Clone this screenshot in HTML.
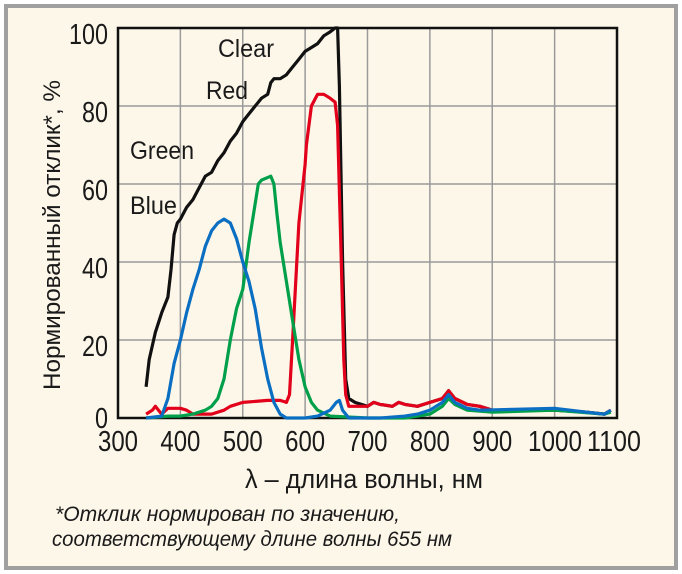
<!DOCTYPE html><html><head><meta charset="utf-8"><style>
body{margin:0;background:#fff}
svg{display:block}
text{font-family:"Liberation Sans",sans-serif;fill:#1a1a1a}
</style></head><body>
<svg id="s" width="682" height="574" xmlns="http://www.w3.org/2000/svg">
<rect x="6" y="6" width="670" height="562" fill="#fdf7e9" stroke="#a0a0a0" stroke-width="4"/>
<g id="grid" stroke="#9a9a9a" stroke-width="1.5"></g>
<rect x="118" y="28" width="499" height="390" fill="none" stroke="#111" stroke-width="2.5"/>
<g id="curves" fill="none" stroke-width="3.2" stroke-linejoin="round"></g>
<g font-size="29" text-anchor="end">
<text x="108" y="44" textLength="39" lengthAdjust="spacingAndGlyphs">100</text>
<text x="108" y="122" textLength="26" lengthAdjust="spacingAndGlyphs">80</text>
<text x="108" y="200" textLength="26" lengthAdjust="spacingAndGlyphs">60</text>
<text x="108" y="278" textLength="26" lengthAdjust="spacingAndGlyphs">40</text>
<text x="108" y="356" textLength="26" lengthAdjust="spacingAndGlyphs">20</text>
<text x="108" y="428" textLength="13" lengthAdjust="spacingAndGlyphs">0</text>
</g>
<g id="xl" font-size="29"></g>
<text x="218" y="57" font-size="25" textLength="56" lengthAdjust="spacingAndGlyphs">Clear</text>
<text x="206" y="99" font-size="25" textLength="42" lengthAdjust="spacingAndGlyphs">Red</text>
<text x="130" y="159" font-size="25" textLength="64" lengthAdjust="spacingAndGlyphs">Green</text>
<text x="130" y="214" font-size="25" textLength="47" lengthAdjust="spacingAndGlyphs">Blue</text>
<text transform="translate(60,235) rotate(-90)" font-size="24" text-anchor="middle" textLength="310" lengthAdjust="spacingAndGlyphs">Нормированный отклик*, %</text>
<text x="245" y="488" font-size="27" textLength="238" lengthAdjust="spacingAndGlyphs">λ – длина волны, нм</text>
<text x="55" y="521" font-size="21" font-style="italic" textLength="345" lengthAdjust="spacingAndGlyphs">*Отклик нормирован по значению,</text>
<text x="52" y="546" font-size="21" font-style="italic" textLength="400" lengthAdjust="spacingAndGlyphs">соответствующему длине волны 655 нм</text>
</svg>
<script>
var X=l=>118+(l-300)*0.62375,Y=v=>418-v*3.9,ns="http://www.w3.org/2000/svg";
var g=document.getElementById('grid'),xl=document.getElementById('xl');
for(var i=1;i<8;i++){var l=document.createElementNS(ns,'line');var x=118+i*62.375;l.setAttribute('x1',x);l.setAttribute('x2',x);l.setAttribute('y1',28);l.setAttribute('y2',418);g.appendChild(l);}
for(var j=1;j<5;j++){var l=document.createElementNS(ns,'line');var y=418-j*78;l.setAttribute('x1',118);l.setAttribute('x2',617);l.setAttribute('y1',y);l.setAttribute('y2',y);g.appendChild(l);}
for(var k=0;k<=8;k++){var t=document.createElementNS(ns,'text');var cx=118+k*62.375;var w=k>=7?54:40;if(k==7)cx=555;if(k==8)cx=614;t.setAttribute('x',cx-w/2);t.setAttribute('y',451);t.setAttribute('textLength',w);t.setAttribute('lengthAdjust','spacingAndGlyphs');t.textContent=300+k*100;xl.appendChild(t);}
var tail=[[700,3],[710,4],[720,3.5],[740,3],[750,4],[760,3.5],[780,3],[800,4],[820,5],[830,7],[840,5],[860,3.5],[880,3],[900,2],[1000,2],[1050,1.5],[1080,1],[1090,2]];
var C={
'#111':[[345,8],[350,15],[360,22],[370,27],[380,31],[385,38],[390,47],[395,50],[400,51],[410,54],[420,56],[430,59],[440,62],[450,63],[460,66],[470,68],[480,71],[490,73],[500,76],[510,78],[520,80],[530,82],[540,83],[545,86],[550,87],[560,87],[570,88],[580,90],[590,92],[600,94],[610,95],[620,96],[630,98],[640,99],[648,100],[652,100],[655,85],[660,40],[665,10],[670,5],[680,4]].concat(tail),
'#e2001a':[[345,1],[355,2],[360,3],[365,2],[370,1],[380,2.5],[400,2.5],[410,2],[420,1],[450,1],[470,2],[480,3],[500,4],[540,4.5],[560,4.5],[570,4],[575,6],[580,20],[590,50],[600,65],[602,70],[610,80],[620,83],[630,83],[640,82],[648,81],[652,75],[658,40],[662,15],[665,6],[670,3],[680,3]].concat(tail),
'#00a04a':[[345,0],[380,0.5],[400,0.5],[420,1],[440,2],[450,3],[460,5],[470,10],[480,20],[490,28],[500,33],[510,45],[520,55],[525,60],[530,61],[545,62],[550,60],[555,52],[560,45],[570,35],[580,25],[590,15],[600,8],[610,4],[620,2],[640,0.5],[700,0],[760,0],[780,0.5],[800,1],[820,3],[830,5],[840,3.5],[860,2],[900,1.5],[1000,2],[1080,1],[1090,1.5]],
'#0a6fc2':[[345,0],[370,0.5],[380,5],[390,14],[400,20],[410,27],[420,33],[430,38],[440,44],[450,48],[460,50],[470,51],[480,50],[490,46],[500,40],[510,35],[520,28],[530,18],[540,10],[550,4],[560,1],[570,0],[600,0],[620,0.5],[640,2],[650,4],[655,4.5],[660,2],[670,0],[720,0],[760,0.5],[780,1],[800,2],[820,4],[830,6],[840,4],[860,2.5],[880,2],[1000,2.5],[1050,1.5],[1080,1],[1090,2]]};
var cg=document.getElementById('curves');
for(var c in C){var p=document.createElementNS(ns,'path');p.setAttribute('stroke',c);p.setAttribute('d','M'+C[c].map(q=>X(q[0]).toFixed(1)+','+Y(q[1]).toFixed(1)).join('L'));cg.appendChild(p);}
</script>
</body></html>
